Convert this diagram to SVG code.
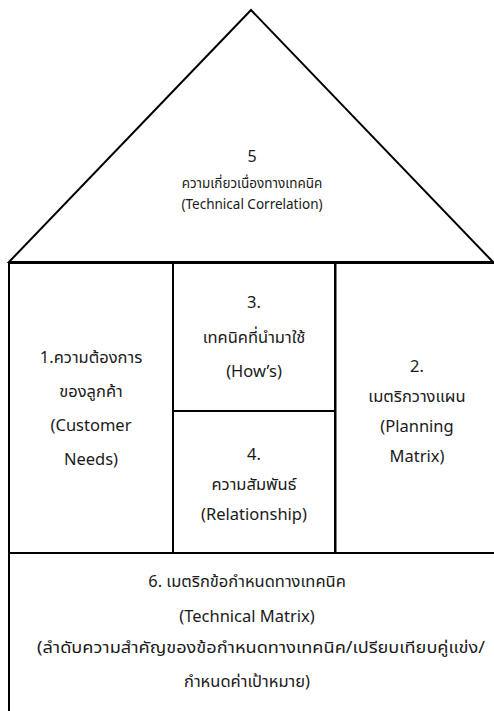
<svg xmlns="http://www.w3.org/2000/svg" width="494" height="711" viewBox="0 0 494 711">
<style>
  .ln{fill:none;stroke:#000;stroke-width:2}
  .t{font-family:"Noto Sans","Noto Sans Thai","Liberation Sans",sans-serif;fill:#1a1a1a;text-anchor:middle}
  .s{font-size:13.5px}
  .m{font-size:16.5px}
</style>
<rect width="494" height="711" fill="#fff"/>
<g id="roof">
  <polygon class="ln" points="9,262 251,10 493,262" stroke-width="1.6"/>
  <text class="t" x="252" y="162" font-size="16">5</text>
  <text class="t s" x="252" y="188">ความเกี่ยวเนื่องทางเทคนิค</text>
  <text class="t s" x="252" y="209">(Technical Correlation)</text>
</g>
<g id="customer-needs">
  <rect class="ln" x="9" y="263" width="164" height="290"/>
  <text class="t m" x="91" y="363">1.ความต้องการ</text>
  <text class="t m" x="91" y="397">ของลูกค้า</text>
  <text class="t m" x="91" y="431">(Customer</text>
  <text class="t m" x="91" y="465">Needs)</text>
</g>
<g id="hows">
  <rect class="ln" x="173" y="263" width="162" height="148"/>
  <text class="t m" x="254" y="308">3.</text>
  <text class="t m" x="254" y="343">เทคนิคที่นำมาใช้</text>
  <text class="t m" x="254" y="377">(How’s)</text>
</g>
<g id="relationship">
  <rect class="ln" x="173" y="411" width="162" height="142"/>
  <text class="t m" x="254" y="460">4.</text>
  <text class="t m" x="254" y="490">ความสัมพันธ์</text>
  <text class="t m" x="254" y="520">(Relationship)</text>
</g>
<g id="planning-matrix">
  <rect class="ln" x="335" y="263" width="170" height="290"/>
  <line class="ln" x1="335.5" y1="263" x2="335.5" y2="553" stroke-width="3"/>
  <text class="t m" x="417" y="372">2.</text>
  <text class="t m" x="417" y="402">เมตริกวางแผน</text>
  <text class="t m" x="417" y="432">(Planning</text>
  <text class="t m" x="417" y="462">Matrix)</text>
</g>
<g id="technical-matrix">
  <rect class="ln" x="9" y="553" width="500" height="170"/>
  <text class="t m" x="247" y="587">6. เมตริกข้อกำหนดทางเทคนิค</text>
  <text class="t m" x="247" y="622">(Technical Matrix)</text>
  <text class="t m" x="261" y="653" textLength="448" lengthAdjust="spacingAndGlyphs">(ลำดับความสำคัญของข้อกำหนดทางเทคนิค/เปรียบเทียบคู่แข่ง/</text>
  <text class="t m" x="247" y="687">กำหนดค่าเป้าหมาย)</text>
</g>
<g id="connectors"></g>
</svg>
